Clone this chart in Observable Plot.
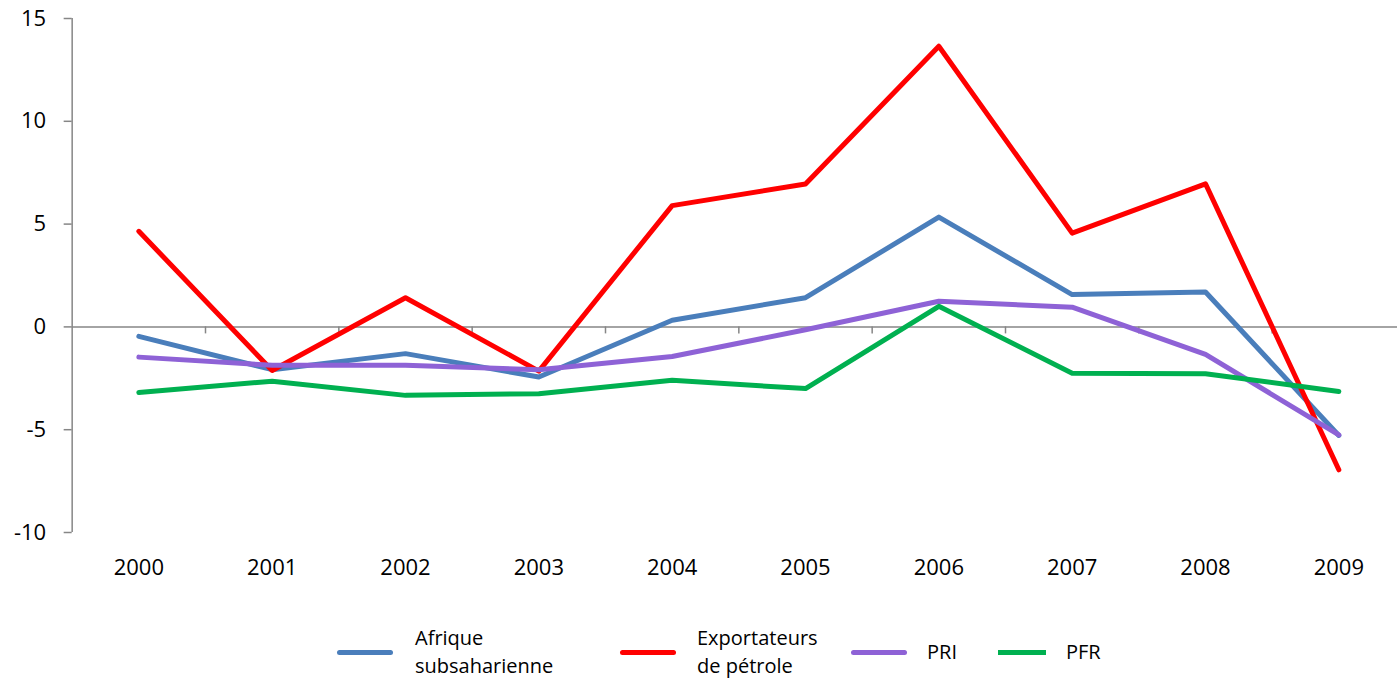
<!DOCTYPE html>
<html>
<head>
<meta charset="utf-8">
<script src="https://cdn.jsdelivr.net/npm/d3@7"></script>
<script src="https://cdn.jsdelivr.net/npm/@observablehq/plot@0.6"></script>
<style>
  html, body { margin: 0; padding: 0; background: #fff; }
  #chart { position: relative; width: 1397px; height: 678px; overflow: hidden; font-family: "Open Sans", sans-serif; }
  #legend { position: absolute; left: 0; top: 610px; width: 1397px; height: 68px; font-size: 20px; color: #000; }
  .sw { position: absolute; height: 5px; top: 40px; border-radius: 3px; }
  .lb { position: absolute; line-height: 28px; }
</style>
</head>
<body>
<div id="chart"><div id="plot"></div><div id="legend"></div></div>
<script>
const years = [2000, 2001, 2002, 2003, 2004, 2005, 2006, 2007, 2008, 2009];
const seriesNames = ["Afrique subsaharienne", "Exportateurs de pétrole", "PRI", "PFR"];
const legendLabels = [["Afrique", "subsaharienne"], ["Exportateurs", "de pétrole"], ["PRI"], ["PFR"]];
const colors = ["#4a7ebb", "#ff0000", "#8e62d6", "#00b050"];
const afrique = [-0.46, -2.08, -1.3, -2.44, 0.32, 1.42, 5.34, 1.57, 1.7, -5.28];
const exportateurs = [4.65, -2.12, 1.42, -2.15, 5.9, 6.95, 13.65, 4.56, 6.96, -6.95];
const pri = [-1.47, -1.87, -1.87, -2.08, -1.44, -0.14, 1.25, 0.96, -1.34, -5.25];
const pfr = [-3.19, -2.64, -3.33, -3.25, -2.6, -3.0, 1.0, -2.25, -2.28, -3.14];
const yTicks = [-10, -5, 0, 5, 10, 15];

const allValues = [afrique, exportateurs, pri, pfr];
const data = [];
seriesNames.forEach((s, i) => years.forEach((yr, j) => data.push({series: s, year: yr, value: allValues[i][j]})));
const boundaries = years.slice(1).map(y => y - 0.5);
const x0 = years[0] - 0.5;

const axisColor = "#868686";
const plot = Plot.plot({
  width: 1397,
  height: 610,
  marginTop: 18,
  marginBottom: 78,
  marginLeft: 70,
  marginRight: 0,
  style: {fontFamily: "Open Sans, sans-serif", fontSize: "22px", color: "#000", background: "transparent", overflow: "visible"},
  x: {type: "linear", domain: [1999.5, 2009.5], range: [71.67, 1405], axis: null},
  y: {domain: [-10, 15], axis: null},
  color: {domain: seriesNames, range: colors},
  marks: [
    Plot.ruleX([x0], {y1: -10, y2: 15, stroke: axisColor, strokeWidth: 1.5}),
    Plot.ruleY(yTicks, {x1: x0 - 0.06, x2: x0, stroke: axisColor, strokeWidth: 1.5}),
    Plot.text(yTicks, {x: x0, y: d => d, text: d => String(d), dx: -26, textAnchor: "end", fontSize: 22}),
    Plot.ruleY([0], {x1: x0, x2: 2009.5, stroke: axisColor, strokeWidth: 1.5}),
    Plot.ruleX(boundaries, {y1: 0, y2: -0.34, stroke: axisColor, strokeWidth: 1.5}),
    Plot.text(years, {x: d => d, y: -10, text: d => String(d), dy: 35, fontSize: 22}),
    Plot.line(data, {x: "year", y: "value", z: "series", stroke: "series", strokeWidth: 5, strokeLinejoin: "round", strokeLinecap: "round"})
  ]
});
document.getElementById("plot").appendChild(plot);

// legend
const legend = document.getElementById("legend");
const swX = [337, 620, 851, 998];
const swW = [56, 56, 56, 48];
const lbX = [415, 697, 927, 1066];
seriesNames.forEach((s, i) => {
  const sw = document.createElement("div");
  sw.className = "sw";
  sw.style.left = swX[i] + "px";
  sw.style.width = swW[i] + "px";
  sw.style.background = colors[i];
  if (i === 3) sw.style.borderRadius = "0";
  legend.appendChild(sw);
  const lb = document.createElement("div");
  lb.className = "lb";
  lb.style.left = lbX[i] + "px";
  const lines = legendLabels[i];
  lb.style.top = lines.length === 2 ? "14px" : "28px";
  lb.innerHTML = lines.join("<br>");
  legend.appendChild(lb);
});
</script>
</body>
</html>
